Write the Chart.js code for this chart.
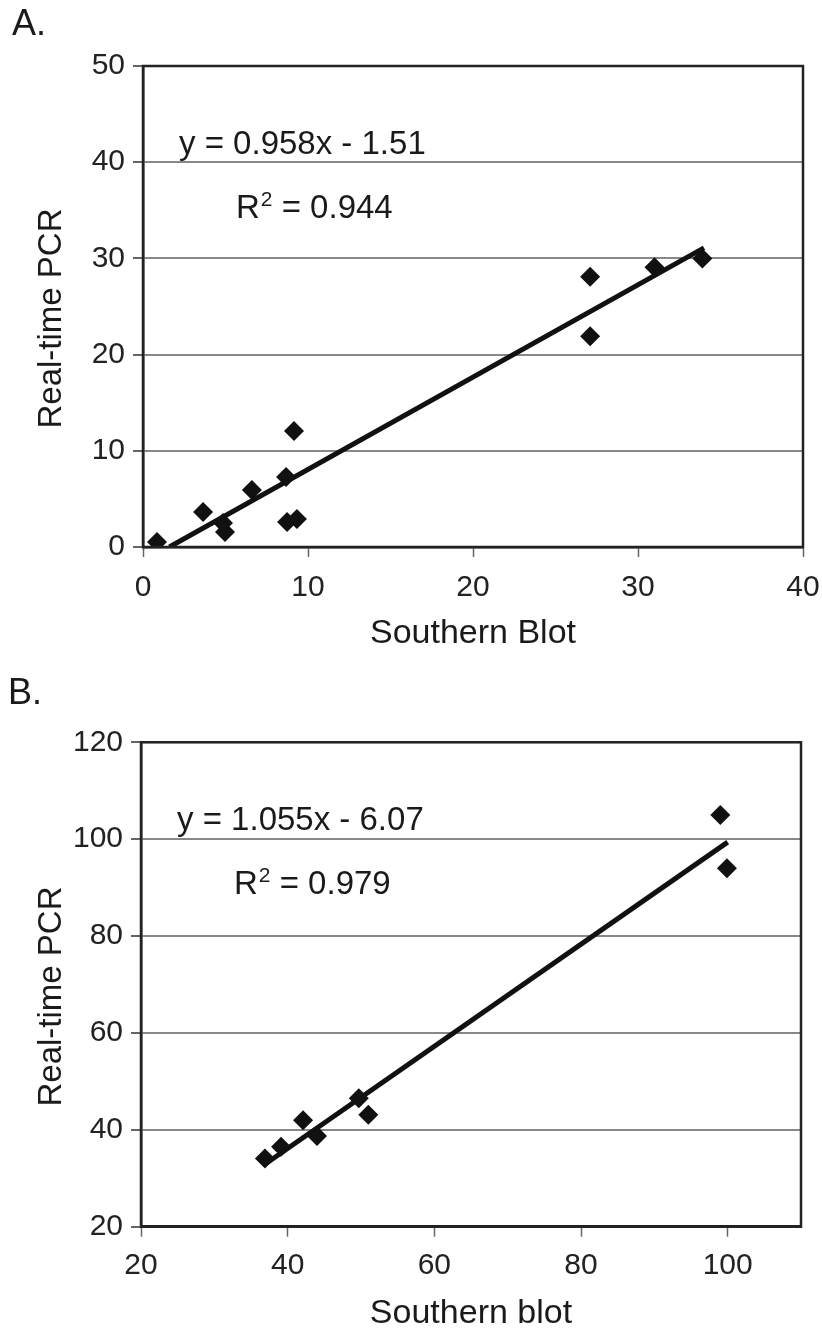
<!DOCTYPE html>
<html>
<head>
<meta charset="utf-8">
<script src="https://cdn.jsdelivr.net/npm/chart.js@4/dist/chart.umd.min.js"></script>
<style>
html,body{margin:0;padding:0;background:#fff;overflow:hidden;}
canvas{position:absolute;left:0;}
#ca{top:0;}
#cb{top:660px;}
</style>
</head>
<body>
<canvas id="ca" width="822" height="660"></canvas>
<canvas id="cb" width="822" height="668"></canvas>
<script>
// ---- Panel A data ----
const A_southern = [0.85, 3.64, 4.85, 4.97, 6.6, 8.67, 9.15, 8.73, 9.33, 27.1, 27.1, 31.0, 33.9];
const A_pcr      = [0.52, 3.64, 2.49, 1.56, 5.93, 7.28, 12.06, 2.6, 2.91, 28.1, 21.9, 29.07, 30.0];
const A_trendX   = [1.6, 34.0];
const A_trendY   = [0, 31.1];
const A_xTicks   = [0, 10, 20, 30, 40];
const A_yTicks   = [0, 10, 20, 30, 40, 50];
const A_equation = "y = 0.958x - 1.51";
const A_r2       = "0.944";

// ---- Panel B data ----
const B_southern = [36.9, 39.1, 42.1, 44.0, 49.7, 51.0, 99.0, 99.9];
const B_pcr      = [34.1, 36.5, 42.0, 38.7, 46.5, 43.1, 105.0, 94.0];
const B_trendX   = [36.9, 100];
const B_trendY   = [32.9, 99.4];
const B_xTicks   = [20, 40, 60, 80, 100];
const B_yTicks   = [20, 40, 60, 80, 100, 120];
const B_equation = "y = 1.055x - 6.07";
const B_r2       = "0.979";

const FONT = "'Liberation Sans', Arial, Helvetica, sans-serif";
Chart.defaults.font.family = FONT;
Chart.defaults.color = '#222';

const annotPlugin = {
  id: 'annot',
  afterDraw(chart, args, opts) {
    const ctx = chart.ctx;
    const ca = chart.chartArea;
    ctx.save();
    // frame
    ctx.strokeStyle = '#222';
    ctx.lineWidth = 2.5;
    ctx.strokeRect(ca.left, ca.top, ca.right - ca.left, ca.bottom - ca.top);
    ctx.fillStyle = '#1a1a1a';
    // y axis title (rotated)
    ctx.save();
    ctx.translate(52, (ca.top + ca.bottom) / 2 + 12);
    ctx.rotate(-Math.PI / 2);
    ctx.textAlign = 'center';
    ctx.textBaseline = 'middle';
    ctx.font = '33px ' + FONT;
    ctx.fillText(opts.yTitle, 0, 0);
    ctx.restore();
    // panel letter
    ctx.textBaseline = 'alphabetic';
    ctx.textAlign = 'left';
    ctx.font = '36px ' + FONT;
    ctx.fillText(opts.letter, opts.letterX, opts.letterY);
    // equation
    ctx.font = '33px ' + FONT;
    ctx.fillText(opts.eq, ca.left + 36, ca.top + 88);
    // R^2
    let x = ca.left + 93;
    const y = ca.top + 152;
    ctx.fillText('R', x, y);
    x += ctx.measureText('R').width + 1;
    ctx.font = '21px ' + FONT;
    ctx.fillText('2', x, y - 12);
    x += ctx.measureText('2').width;
    ctx.font = '33px ' + FONT;
    ctx.fillText(' = ' + opts.r2, x, y);
    ctx.restore();
  }
};

function makeChart(id, cfg) {
  const pts = cfg.xs.map((v, i) => ({x: v, y: cfg.ys[i]}));
  const trend = cfg.tx.map((v, i) => ({x: v, y: cfg.ty[i]}));
  return new Chart(document.getElementById(id), {
    type: 'scatter',
    data: {
      datasets: [
        {data: trend, showLine: true, pointRadius: 0, borderColor: '#111', borderWidth: 5, order: 2},
        {data: pts, pointStyle: 'rectRot', pointRadius: 10, pointHoverRadius: 10,
         backgroundColor: '#111', borderColor: '#111', borderWidth: 0, order: 1}
      ]
    },
    options: {
      responsive: false,
      devicePixelRatio: 1,
      animation: false,
      layout: {padding: cfg.padding},
      plugins: {legend: {display: false}, tooltip: {enabled: false},
        annot: {letter: cfg.letter, letterX: cfg.letterX, letterY: cfg.letterY, eq: cfg.eq, r2: cfg.r2,
                yTitle: 'Real-time PCR'}},
      scales: {
        x: {
          type: 'linear', min: cfg.xmin, max: cfg.xmax,
          afterBuildTicks: s => { s.ticks = cfg.xTicks.map(v => ({value: v})); },
          afterFit: s => { s.height = cfg.xh; s.paddingLeft = 0; s.paddingRight = 0; },
          grid: {drawOnChartArea: false, tickLength: 10, tickColor: '#666', tickWidth: 1.5},
          border: {color: '#222', width: 2.5},
          ticks: {font: {size: 30}, padding: cfg.xtickPad, color: '#222', maxRotation: 0},
          title: {display: true, text: cfg.xTitle, font: {size: 34, lineHeight: 1}, color: '#1a1a1a',
                  padding: {top: 0, bottom: cfg.xTitlePad}}
        },
        y: {
          type: 'linear', min: cfg.ymin, max: cfg.ymax,
          afterBuildTicks: s => { s.ticks = cfg.yTicks.map(v => ({value: v})); },
          afterFit: s => { s.width = cfg.yw; s.paddingTop = 0; s.paddingBottom = 0; },
          grid: {color: '#888', lineWidth: 2, tickLength: 10, tickColor: '#666'},
          border: {color: '#222', width: 2.5},
          ticks: {font: {size: 30}, padding: 8, color: '#222'},
          title: {display: false}
        }
      }
    },
    plugins: [annotPlugin]
  });
}

makeChart('ca', {
  xs: A_southern, ys: A_pcr, tx: A_trendX, ty: A_trendY,
  xmin: 0, xmax: 40, ymin: 0, ymax: 50, xTicks: A_xTicks, yTicks: A_yTicks,
  xTitle: 'Southern Blot', eq: A_equation, r2: A_r2,
  letter: 'A.', letterX: 12, letterY: 35,
  padding: {top: 66, right: 19, bottom: 9, left: 0},
  xh: 104, yw: 143, xtickPad: 13, xTitlePad: 0
});

makeChart('cb', {
  xs: B_southern, ys: B_pcr, tx: B_trendX, ty: B_trendY,
  xmin: 20, xmax: 110, ymin: 20, ymax: 120, xTicks: B_xTicks, yTicks: B_yTicks,
  xTitle: 'Southern blot', eq: B_equation, r2: B_r2,
  letter: 'B.', letterX: 8, letterY: 44,
  padding: {top: 82.3, right: 21, bottom: 0, left: 0},
  xh: 101.3, yw: 141, xtickPad: 11, xTitlePad: -3
});
</script>
</body>
</html>
